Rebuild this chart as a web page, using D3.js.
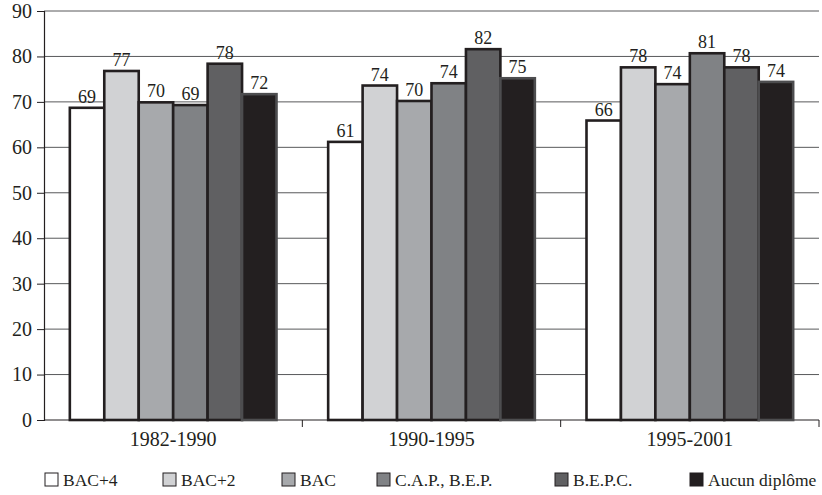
<!DOCTYPE html>
<html>
<head>
<meta charset="utf-8">
<script src="https://cdn.jsdelivr.net/npm/d3@7"></script>
<style>
  body { margin: 0; background: #fff; }
  svg text { font-family: "Liberation Serif", "DejaVu Serif", serif !important; }
</style>
</head>
<body>
<div id="chart"></div>
<script>
// data
const periods = ["1982-1990", "1990-1995", "1995-2001"];
const diplomas = ["BAC+4", "BAC+2", "BAC", "C.A.P., B.E.P.", "B.E.P.C.", "Aucun diplôme"];
const bac4   = [68.7, 61.2, 65.9];
const bac2   = [76.8, 73.6, 77.6];
const bac    = [69.9, 70.2, 73.9];
const cap    = [69.3, 74.1, 80.7];
const bepc   = [78.4, 81.6, 77.6];
const aucun  = [71.7, 75.2, 74.4];
const yTicks = [0, 10, 20, 30, 40, 50, 60, 70, 80, 90];

const colors = ["#ffffff", "#d1d2d4", "#a7a9ac", "#808285", "#606062", "#231f20"];
const series = [bac4, bac2, bac, cap, bepc, aucun];

const width = 822, height = 495;
const mLeft = 44, mRight = 819, mTop = 11, mBottom = 420;

const svg = d3.select("#chart").append("svg")
    .attr("width", width)
    .attr("height", height);

const y = d3.scaleLinear().domain([0, 90]).range([mBottom, mTop]);
const x0 = d3.scaleBand().domain(periods).range([mLeft, mRight]).padding(0);
const x1 = d3.scaleBand().domain(diplomas).range([0, x0.bandwidth()])
    .paddingInner(0).paddingOuter(0.75);

// grid lines
svg.append("g")
  .selectAll("line")
  .data(yTicks.filter(d => d > 0))
  .join("line")
    .attr("x1", mLeft).attr("x2", mRight)
    .attr("y1", d => y(d)).attr("y2", d => y(d))
    .attr("stroke", "#58595b")
    .attr("stroke-width", 1);

// y axis
const yAxis = svg.append("g")
    .attr("transform", `translate(${mLeft},0)`)
    .call(d3.axisLeft(y).tickValues(yTicks).tickSize(7).tickPadding(5));
yAxis.select(".domain").attr("stroke", "#231f20").attr("stroke-width", 1.2);
yAxis.selectAll(".tick line").attr("stroke", "#231f20");
yAxis.selectAll(".tick text")
    .attr("font-size", 20)
    .attr("fill", "#231f20");

// x axis line + separators
svg.append("line")
    .attr("x1", mLeft).attr("x2", mRight)
    .attr("y1", mBottom).attr("y2", mBottom)
    .attr("stroke", "#231f20").attr("stroke-width", 1.2);

svg.append("g")
  .selectAll("line")
  .data(periods.slice(1).concat(["end"]))
  .join("line")
    .attr("x1", d => d === "end" ? mRight : x0(d))
    .attr("x2", d => d === "end" ? mRight : x0(d))
    .attr("y1", mBottom).attr("y2", mBottom + 7)
    .attr("stroke", "#231f20");

// bars
const groups = svg.append("g")
  .selectAll("g")
  .data(periods)
  .join("g")
    .attr("transform", d => `translate(${x0(d)},0)`);

const fmt = d3.format(".0f");

groups.selectAll("rect")
  .data((p, i) => diplomas.map((name, j) => ({name, j, value: series[j][i]})))
  .join("rect")
    .attr("x", d => x1(d.name))
    .attr("y", d => y(d.value))
    .attr("width", x1.bandwidth())
    .attr("height", d => y(0) - y(d.value))
    .attr("fill", d => colors[d.j])
    .attr("stroke", d => d.j === 5 ? "#4d4d4f" : "#231f20")
    .attr("stroke-width", 2.6);

groups.selectAll("text")
  .data((p, i) => diplomas.map((name, j) => ({name, j, value: series[j][i]})))
  .join("text")
    .attr("x", d => x1(d.name) + x1.bandwidth() / 2)
    .attr("y", d => y(d.value) - 5)
    .attr("text-anchor", "middle")
    .attr("font-size", 18)
    .attr("fill", "#231f20")
    .text(d => fmt(d.value));

// category labels
svg.append("g")
  .selectAll("text")
  .data(periods)
  .join("text")
    .attr("x", d => x0(d) + x0.bandwidth() / 2)
    .attr("y", 446)
    .attr("text-anchor", "middle")
    .attr("font-size", 20)
    .attr("fill", "#231f20")
    .text(d => d);

// legend
const legendX = [45, 163, 282, 377, 555, 690];
const legend = svg.append("g")
  .selectAll("g")
  .data(diplomas)
  .join("g")
    .attr("transform", (d, i) => `translate(${legendX[i]},473)`);

legend.append("rect")
    .attr("width", 13).attr("height", 13)
    .attr("fill", (d, i) => colors[i])
    .attr("stroke", "#231f20")
    .attr("stroke-width", 1);

legend.append("text")
    .attr("x", 18)
    .attr("y", 13)
    .attr("font-size", 17.5)
    .attr("fill", "#231f20")
    .text(d => d);
</script>
</body>
</html>
